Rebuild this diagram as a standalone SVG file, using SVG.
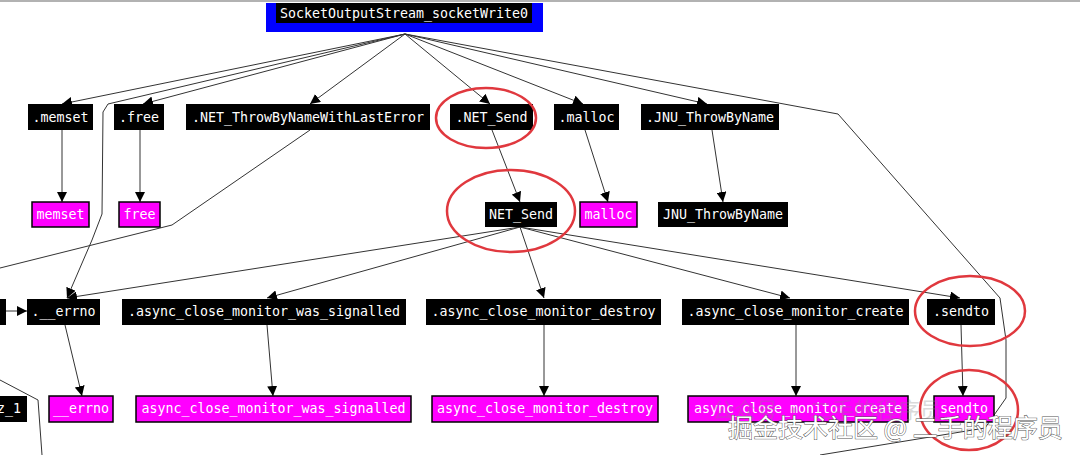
<svg xmlns="http://www.w3.org/2000/svg" width="1080" height="455" viewBox="0 0 1080 455">
<style>
.bk{fill:#000}
.mg{fill:#ff00ff;stroke:#000;stroke-width:1.5}
.t{font-family:"DejaVu Sans Mono","Liberation Mono",monospace;font-size:13.3px;fill:#fff;text-anchor:middle}
.e{fill:none;stroke:#333;stroke-width:1}
.ring{fill:none;stroke:#e0383e;stroke-width:2.5}
.wm{font-family:"Noto Sans CJK SC",sans-serif}
</style>
<defs>
<marker id="ah" viewBox="0 0 10 10" refX="10" refY="5" markerWidth="10" markerHeight="10" markerUnits="userSpaceOnUse" orient="auto">
<path d="M0,0 L10,5 L0,10 z" fill="#000"/>
</marker>
</defs>
<rect width="1080" height="455" fill="#fff"/>
<line x1="0" y1="1" x2="1080" y2="1" stroke="#999" stroke-width="1.5"/>
<g id="connectors">
<path class="e" marker-end="url(#ah)" d="M405,34 L62,104"/>
<path class="e" marker-end="url(#ah)" d="M405,34 L143,104"/>
<path class="e" marker-end="url(#ah)" d="M405,34 L108,104 L103,112 L102,214 L92,240 L67,298"/>
<path class="e" marker-end="url(#ah)" d="M405,34 L310,104"/>
<path class="e" marker-end="url(#ah)" d="M405,34 L490,104"/>
<path class="e" marker-end="url(#ah)" d="M405,34 L583,104"/>
<path class="e" marker-end="url(#ah)" d="M405,34 L707,104"/>
<path class="e" d="M405,34 L838,114 L1000,298 L1006,340 L1006,398 L985,428 L930,437 L820,455"/>
<path class="e" marker-end="url(#ah)" d="M62,130 L62,202"/>
<path class="e" marker-end="url(#ah)" d="M140,130 L140,202"/>
<path class="e" marker-end="url(#ah)" d="M492,130 L520,202"/>
<path class="e" marker-end="url(#ah)" d="M585,130 L608,202"/>
<path class="e" marker-end="url(#ah)" d="M712,130 L723,202"/>
<path class="e" d="M310,130 L172,225 L0,268"/>
<path class="e" marker-end="url(#ah)" d="M520,227 L67,298"/>
<path class="e" marker-end="url(#ah)" d="M520,227 L267,298"/>
<path class="e" marker-end="url(#ah)" d="M520,227 L544,298"/>
<path class="e" marker-end="url(#ah)" d="M520,227 L790,298"/>
<path class="e" marker-end="url(#ah)" d="M520,227 L960,298"/>
<path class="e" marker-end="url(#ah)" d="M65,325 L82,396"/>
<path class="e" marker-end="url(#ah)" d="M267,325 L273,396"/>
<path class="e" marker-end="url(#ah)" d="M544,325 L544,396"/>
<path class="e" marker-end="url(#ah)" d="M796,325 L796,396"/>
<path class="e" marker-end="url(#ah)" d="M961,325 L963,396"/>
<path class="e" marker-end="url(#ah)" d="M6,311 L27,311"/>
<path class="e" d="M0,380 L38,400 L42,455"/>
</g>
<g id="n_socketWrite0">
<rect x="266" y="3" width="277" height="29" fill="#0000ff"/>
<rect x="276" y="3" width="256" height="20" class="bk"/>
<text class="t" x="404" y="18">SocketOutputStream_socketWrite0</text>
</g>
<g id="n_dot_memset"><rect x="28" y="104" width="65" height="26" class="bk"/><text class="t" x="60.5" y="121.5">.memset</text></g>
<g id="n_dot_free"><rect x="114" y="104" width="50" height="26" class="bk"/><text class="t" x="139" y="121.5">.free</text></g>
<g id="n_dot_throw"><rect x="186" y="104" width="244" height="26" class="bk"/><text class="t" x="308" y="121.5">.NET_ThrowByNameWithLastError</text></g>
<g id="n_dot_netsend"><rect x="450" y="104" width="83" height="26" class="bk"/><text class="t" x="491.5" y="121.5">.NET_Send</text></g>
<g id="n_dot_malloc"><rect x="554" y="104" width="65" height="26" class="bk"/><text class="t" x="586.5" y="121.5">.malloc</text></g>
<g id="n_dot_jnu"><rect x="641" y="104" width="138" height="26" class="bk"/><text class="t" x="710" y="121.5">.JNU_ThrowByName</text></g>
<g id="n_memset"><rect x="32" y="202" width="57" height="25" class="mg"/><text class="t" x="60.5" y="219">memset</text></g>
<g id="n_free"><rect x="119" y="202" width="41" height="25" class="mg"/><text class="t" x="139.5" y="219">free</text></g>
<g id="n_netsend"><rect x="485" y="202" width="72" height="25" class="bk"/><text class="t" x="521" y="219">NET_Send</text></g>
<g id="n_malloc"><rect x="580" y="202" width="57" height="25" class="mg"/><text class="t" x="608.5" y="219">malloc</text></g>
<g id="n_jnu"><rect x="658" y="202" width="130" height="25" class="bk"/><text class="t" x="723" y="219">JNU_ThrowByName</text></g>
<g id="n_partial_left"><rect x="-10" y="299" width="16" height="26" class="bk"/></g>
<g id="n_dot_errno"><rect x="27" y="299" width="73" height="26" class="bk"/><text class="t" x="63.5" y="316">.__errno</text></g>
<g id="n_dot_was"><rect x="122" y="299" width="284" height="26" class="bk"/><text class="t" x="264" y="316">.async_close_monitor_was_signalled</text></g>
<g id="n_dot_destroy"><rect x="426" y="299" width="235" height="26" class="bk"/><text class="t" x="543.5" y="316">.async_close_monitor_destroy</text></g>
<g id="n_dot_create"><rect x="682" y="299" width="227" height="26" class="bk"/><text class="t" x="795.5" y="316">.async_close_monitor_create</text></g>
<g id="n_dot_sendto"><rect x="927" y="299" width="68" height="26" class="bk"/><text class="t" x="961" y="316">.sendto</text></g>
<g id="n_z1"><rect x="-10" y="396" width="37" height="26" class="bk"/><text class="t" x="21" y="413" style="text-anchor:end">z_1</text></g>
<g id="n_errno"><rect x="49" y="396" width="64" height="26" class="mg"/><text class="t" x="81" y="413">__errno</text></g>
<g id="n_was"><rect x="136" y="396" width="275" height="26" class="mg"/><text class="t" x="273.5" y="413">async_close_monitor_was_signalled</text></g>
<g id="n_destroy"><rect x="432" y="396" width="226" height="26" class="mg"/><text class="t" x="545" y="413">async_close_monitor_destroy</text></g>
<g id="n_create"><rect x="688" y="396" width="220" height="26" class="mg"/><text class="t" x="798" y="413">async_close_monitor_create</text></g>
<g id="n_sendto"><rect x="934" y="396" width="60" height="26" class="mg"/><text class="t" x="964" y="413">sendto</text></g>
<g id="annotations">
<ellipse class="ring" cx="486" cy="118" rx="50" ry="30"/>
<ellipse class="ring" cx="511" cy="211" rx="64" ry="41"/>
<ellipse class="ring" cx="970" cy="311" rx="55" ry="35"/>
<ellipse class="ring" cx="969" cy="410" rx="49" ry="40"/>
</g>
<g id="watermark">
<text class="wm" x="712" y="418" font-size="22" fill="#888" opacity="0.3">公众号 · 二手的程序员</text>
<text class="wm" x="728" y="437" font-size="25" fill="#fff" stroke="#555" stroke-width="1" paint-order="stroke">掘金技术社区 @ 二手的程序员</text>
</g>
</svg>
